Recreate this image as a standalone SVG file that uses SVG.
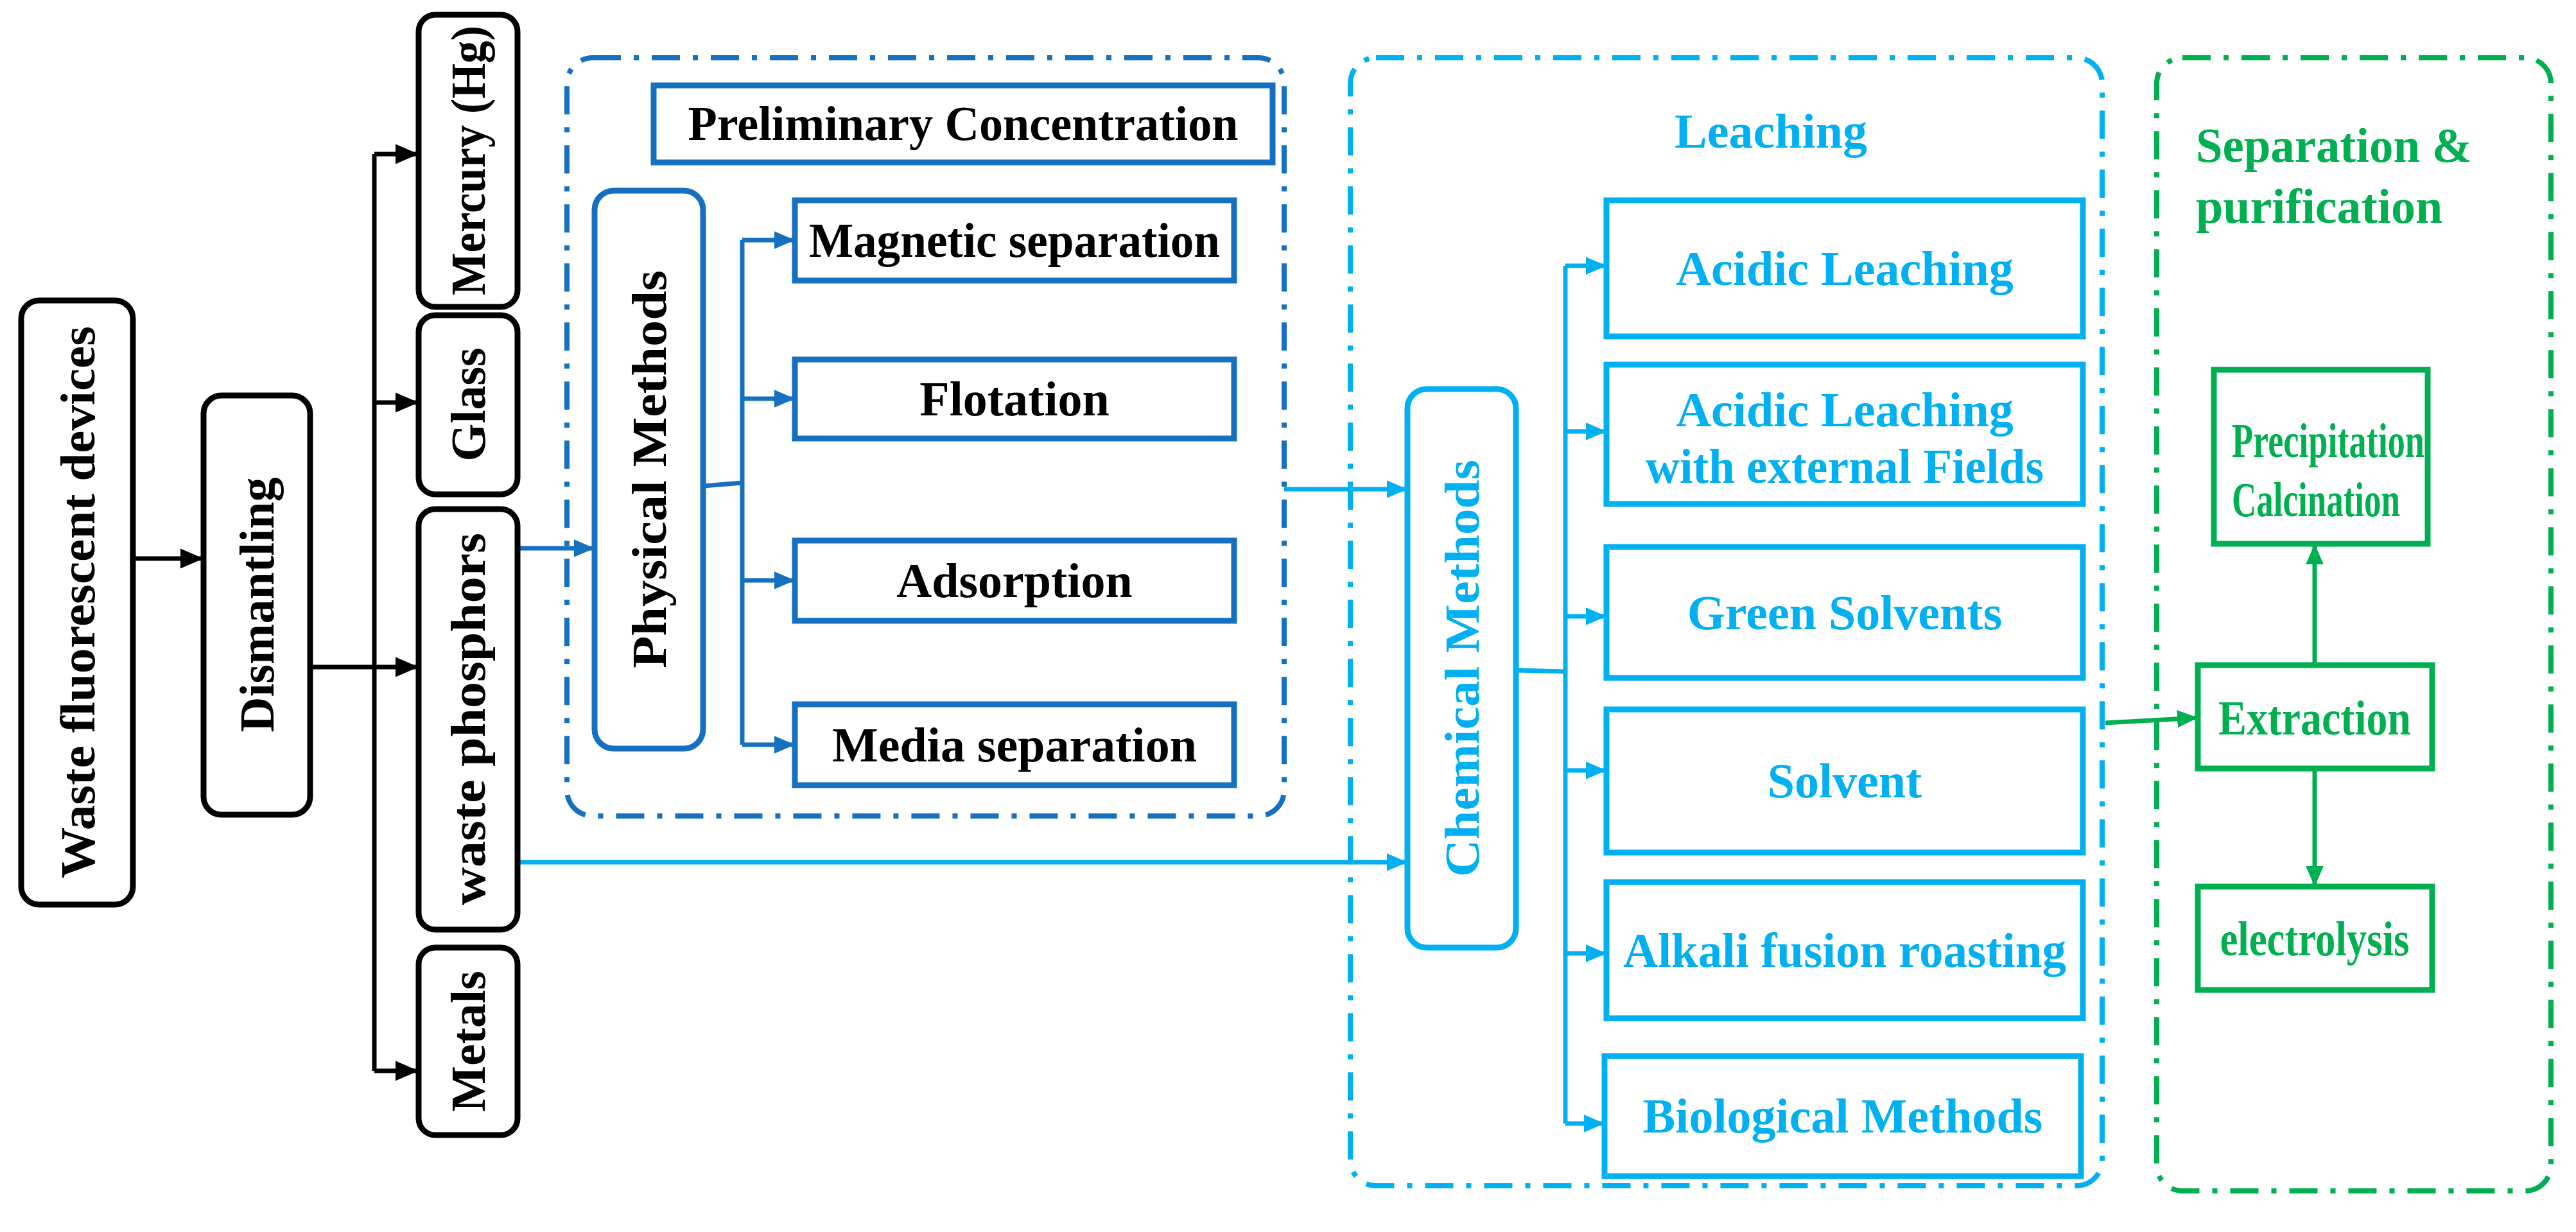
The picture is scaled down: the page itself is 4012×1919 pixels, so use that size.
<svg xmlns="http://www.w3.org/2000/svg" width="4012" height="1919" viewBox="0 0 4012 1919">
<defs>
<style>
text{font-family:"Liberation Serif","Times New Roman",serif;font-weight:bold;font-size:76px;text-anchor:middle}
.k rect{fill:#fff;stroke:#000;stroke-width:9}
.k text{fill:#000}
.d rect{fill:#fff;stroke:#1570c0;stroke-width:9}
.d text{fill:#000}
.l rect{fill:#fff;stroke:#00b0f0;stroke-width:9}
.l text{fill:#00b0f0}
.g rect{fill:#fff;stroke:#00b050;stroke-width:9}
.g text{fill:#00b050}
.cont{fill:none;stroke-width:8;stroke-dasharray:44 20 8 20}
.ck{fill:none;stroke:#000;stroke-width:7}
.cd{fill:none;stroke:#1570c0;stroke-width:7}
.cl{fill:none;stroke:#00b0f0;stroke-width:7}
.cg{fill:none;stroke:#00b050;stroke-width:7}
</style>
<marker id="ad" viewBox="0 0 30 30" refX="30" refY="15" markerWidth="32" markerHeight="32" orient="auto" markerUnits="userSpaceOnUse"><path d="M0,2L30,15L0,28z" fill="#1570c0"/></marker>
<marker id="al" viewBox="0 0 30 30" refX="30" refY="15" markerWidth="32" markerHeight="32" orient="auto" markerUnits="userSpaceOnUse"><path d="M0,2L30,15L0,28z" fill="#00b0f0"/></marker>
<marker id="ag" viewBox="0 0 30 30" refX="30" refY="15" markerWidth="32" markerHeight="32" orient="auto" markerUnits="userSpaceOnUse"><path d="M0,2L30,15L0,28z" fill="#00b050"/></marker>
<marker id="ab" viewBox="0 0 30 30" refX="30" refY="15" markerWidth="36" markerHeight="36" orient="auto" markerUnits="userSpaceOnUse"><path d="M0,2L30,15L0,28z" fill="#000"/></marker>
</defs>
<rect width="4012" height="1919" fill="#fff"/>

<g id="containers">
<rect x="883" y="90" width="1117" height="1181" rx="40" class="cont" stroke="#1570c0"/>
<rect x="2103" y="90" width="1171" height="1757" rx="40" class="cont" stroke="#00b0f0"/>
<rect x="3359" y="90" width="614" height="1765" rx="40" class="cont" stroke="#00b050"/>
</g>

<g id="connectors">
<path class="ck" d="M207,870H317" marker-end="url(#ab)"/>
<path class="ck" d="M483,1039H652" marker-end="url(#ab)"/>
<path class="ck" d="M583,240V1668"/>
<path class="ck" d="M583,240H652" marker-end="url(#ab)"/>
<path class="ck" d="M583,627H652" marker-end="url(#ab)"/>
<path class="ck" d="M583,1668H652" marker-end="url(#ab)"/>
<path class="cd" d="M806,854H926" marker-end="url(#ad)"/>
<path class="cd" d="M1095,757L1156,752"/>
<path class="cd" d="M1156,374V1160"/>
<path class="cd" d="M1156,374H1238" marker-end="url(#ad)"/>
<path class="cd" d="M1156,621H1238" marker-end="url(#ad)"/>
<path class="cd" d="M1156,904H1238" marker-end="url(#ad)"/>
<path class="cd" d="M1156,1160H1238" marker-end="url(#ad)"/>
<path class="cl" d="M2000,762H2192" marker-end="url(#al)"/>
<path class="cl" d="M806,1343H2192" marker-end="url(#al)"/>
<path class="cl" d="M2361,1044L2438,1046"/>
<path class="cl" d="M2438,414V1750"/>
<path class="cl" d="M2438,414H2502" marker-end="url(#al)"/>
<path class="cl" d="M2438,672H2502" marker-end="url(#al)"/>
<path class="cl" d="M2438,960H2502" marker-end="url(#al)"/>
<path class="cl" d="M2438,1200H2502" marker-end="url(#al)"/>
<path class="cl" d="M2438,1485H2502" marker-end="url(#al)"/>
<path class="cl" d="M2438,1750H2499" marker-end="url(#al)"/>
<path class="cg" d="M3279,1126L3423,1118" marker-end="url(#ag)"/>
<path class="cg" d="M3605,1036V847" marker-end="url(#ag)"/>
<path class="cg" d="M3605,1197V1381" marker-end="url(#ag)"/>
</g>

<g id="n-waste" class="k"><rect x="33" y="468" width="174" height="941" rx="28"/><text transform="translate(147,938) rotate(-90)" textLength="860" lengthAdjust="spacingAndGlyphs">Waste  fluorescent devices</text></g>
<g id="n-dismantling" class="k"><rect x="317" y="616" width="166" height="653" rx="28"/><text transform="translate(426,942) rotate(-90)">Dismantling</text></g>
<g id="n-mercury" class="k"><rect x="652" y="23" width="154" height="455" rx="26"/><text transform="translate(755,250) rotate(-90)" textLength="420" lengthAdjust="spacingAndGlyphs">Mercury (Hg)</text></g>
<g id="n-glass" class="k"><rect x="652" y="491" width="154" height="279" rx="26"/><text transform="translate(755,630) rotate(-90)">Glass</text></g>
<g id="n-phosphors" class="k"><rect x="652" y="793" width="154" height="655" rx="26"/><text transform="translate(755,1120) rotate(-90)" textLength="580" lengthAdjust="spacingAndGlyphs">waste phosphors</text></g>
<g id="n-metals" class="k"><rect x="652" y="1476" width="154" height="292" rx="26"/><text transform="translate(755,1622) rotate(-90)">Metals</text></g>

<g id="n-prelim" class="d"><rect x="1018" y="133" width="964" height="120"/><text x="1500" y="218" textLength="857" lengthAdjust="spacingAndGlyphs">Preliminary Concentration</text></g>
<g id="n-physical" class="d"><rect x="926" y="297" width="169" height="869" rx="30"/><text transform="translate(1037,731) rotate(-90)" textLength="620" lengthAdjust="spacingAndGlyphs">Physical Methods</text></g>
<g id="n-magnetic" class="d"><rect x="1238" y="312" width="684" height="125"/><text x="1580" y="400" textLength="640" lengthAdjust="spacingAndGlyphs">Magnetic separation</text></g>
<g id="n-flotation" class="d"><rect x="1238" y="560" width="684" height="123"/><text x="1580" y="647">Flotation</text></g>
<g id="n-adsorption" class="d"><rect x="1238" y="842" width="684" height="125"/><text x="1580" y="930">Adsorption</text></g>
<g id="n-media" class="d"><rect x="1238" y="1097" width="684" height="126"/><text x="1580" y="1186">Media separation</text></g>

<g id="n-leaching" class="l"><text x="2758" y="230">Leaching</text></g>
<g id="n-chemical" class="l"><rect x="2192" y="606" width="169" height="870" rx="30"/><text transform="translate(2303,1041) rotate(-90)" textLength="650" lengthAdjust="spacingAndGlyphs">Chemical Methods</text></g>
<g id="n-acidic" class="l"><rect x="2502" y="312" width="742" height="212"/><text x="2873" y="444">Acidic Leaching</text></g>
<g id="n-fields" class="l"><rect x="2502" y="568" width="742" height="217"/><text x="2873" y="664">Acidic Leaching</text><text x="2873" y="752" textLength="620" lengthAdjust="spacingAndGlyphs">with external Fields</text></g>
<g id="n-green" class="l"><rect x="2502" y="852" width="742" height="204"/><text x="2873" y="980">Green Solvents</text></g>
<g id="n-solvent" class="l"><rect x="2502" y="1105" width="742" height="223"/><text x="2873" y="1242">Solvent</text></g>
<g id="n-alkali" class="l"><rect x="2502" y="1374" width="742" height="212"/><text x="2873" y="1506" textLength="690" lengthAdjust="spacingAndGlyphs">Alkali fusion roasting</text></g>
<g id="n-bio" class="l"><rect x="2499" y="1645" width="742" height="187"/><text x="2870" y="1764">Biological Methods</text></g>

<g id="n-seplabel" class="g"><text x="3420" y="252" style="text-anchor:start" textLength="430" lengthAdjust="spacingAndGlyphs">Separation &amp;</text><text x="3420" y="347" style="text-anchor:start">purification</text></g>
<g id="n-precip" class="g"><rect x="3448" y="576" width="333" height="271"/><text x="3476" y="712" style="text-anchor:start" textLength="300" lengthAdjust="spacingAndGlyphs">Precipitation</text><text x="3476" y="804" style="text-anchor:start" textLength="262" lengthAdjust="spacingAndGlyphs">Calcination</text></g>
<g id="n-extraction" class="g"><rect x="3423" y="1036" width="365" height="161"/><text x="3605" y="1144" textLength="300" lengthAdjust="spacingAndGlyphs">Extraction</text></g>
<g id="n-electrolysis" class="g"><rect x="3423" y="1381" width="365" height="161"/><text x="3605" y="1488" textLength="295" lengthAdjust="spacingAndGlyphs">electrolysis</text></g>
</svg>
